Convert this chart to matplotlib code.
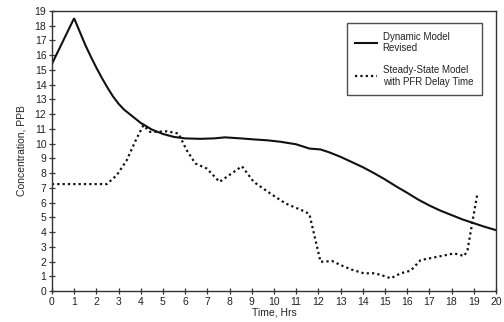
import matplotlib
matplotlib.use("Agg")
import matplotlib.pyplot as plt

plt.rcParams['font.family'] = ['Liberation Sans', 'DejaVu Sans']

# Dynamic model (revised) concentration vs time
dyn_t = [0, 1, 1.25, 1.5, 1.75, 2, 2.25, 2.5, 2.75, 3, 3.25, 3.5, 3.75, 4, 4.5, 5,
         5.5, 6, 6.7, 7.3, 7.8, 8.5, 9.2, 9.7, 10.3, 11, 11.6, 12.1, 12.5, 13,
         13.5, 14, 14.5, 15, 15.5, 16, 16.5, 17, 17.5, 18, 18.5, 19, 19.5, 20]
dyn_c = [15.4, 18.5, 17.6, 16.7, 15.9, 15.15, 14.45, 13.8, 13.2, 12.7, 12.3, 12.0,
         11.7, 11.4, 10.95, 10.65, 10.45, 10.35, 10.32, 10.35, 10.42, 10.35, 10.27,
         10.22, 10.12, 9.95, 9.66, 9.6, 9.4, 9.1, 8.75, 8.4, 8.0, 7.57, 7.1, 6.66,
         6.2, 5.8, 5.45, 5.15, 4.85, 4.6, 4.35, 4.13]

# Steady-state model with PFR delay time
ss_t = [0, 2.47, 2.92, 3.37, 3.8, 4.12, 4.42, 4.8, 5.18, 5.7, 6.07, 6.46, 6.98, 7.55,
        8.56, 9.09, 9.84, 10.52, 11.42, 11.6, 12.1, 12.63, 13.0, 13.5, 14.05, 14.5,
        14.8, 15.26, 15.71, 16.16, 16.61, 17.3, 18.12, 18.57, 18.72, 19.17]
ss_c = [7.25, 7.25, 7.85, 8.87, 10.3, 11.24, 10.79, 10.8, 10.83, 10.68, 9.55, 8.65,
        8.3, 7.4, 8.46, 7.4, 6.61, 5.94, 5.37, 5.2, 1.98, 2.03, 1.76, 1.45, 1.2, 1.2,
        1.1, 0.86, 1.2, 1.38, 2.1, 2.3, 2.55, 2.37, 2.78, 6.66]

x_ticks = list(range(0, 21))
y_ticks = list(range(0, 20))

txt = '#222222'

fig = plt.figure(figsize=(5.04, 3.22), dpi=100)
ax = fig.add_axes([0.103, 0.0963, 0.881, 0.870])

ax.plot(dyn_t, dyn_c, color='#111111', lw=1.5, solid_joinstyle='miter',
        label='Dynamic Model\nRevised')
ax.plot(ss_t, ss_c, color='#111111', lw=1.6, linestyle=(0, (1, 1.4)),
        label='Steady-State Model\nwith PFR Delay Time')

ax.set_xlim(0, 20)
ax.set_ylim(0, 19)
ax.set_xticks(x_ticks)
ax.set_yticks(y_ticks)
ax.tick_params(direction='inout', length=5, width=0.9, labelsize=7.5,
               colors='#333333', labelcolor=txt, pad=1.5)
for s in ax.spines.values():
    s.set_linewidth(1.0)
    s.set_color('#333333')

ax.set_xlabel('Time, Hrs', fontsize=7.5, color=txt, labelpad=1)
ax.set_ylabel('Concentration, PPB', fontsize=7.5, color=txt, labelpad=6)

leg = ax.legend(loc='upper left', bbox_to_anchor=(0.664, 0.957), fontsize=7,
                frameon=True, fancybox=False, edgecolor='#222222',
                handlelength=2.2, handletextpad=0.6, borderpad=0.9,
                labelspacing=1.2, borderaxespad=0)
leg.get_frame().set_linewidth(1.0)
for t in leg.get_texts():
    t.set_color(txt)

fig.savefig('out.png', dpi=100)
